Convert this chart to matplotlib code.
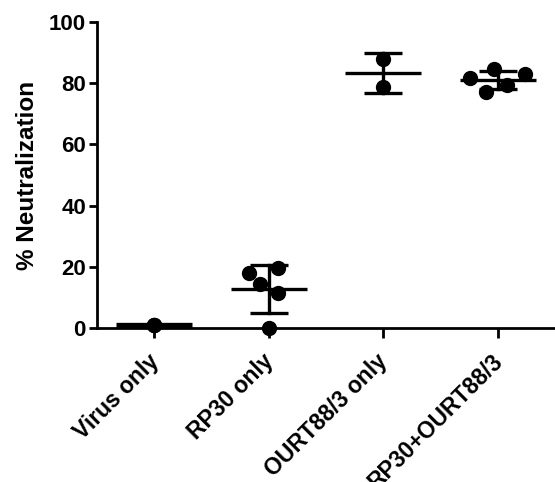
import numpy as np
import matplotlib
matplotlib.use("Agg")
import matplotlib.pyplot as plt
from matplotlib.transforms import ScaledTranslation

plt.rcParams['font.family'] = ['Liberation Sans', 'DejaVu Sans']
plt.rcParams['font.weight'] = 'bold'

# data
groups = ["Virus only", "RP30 only", "OURT88/3 only", "RP30+OURT88/3"]
virus_only = [1.0, 1.0, 1.0]
rp30_only = [18.0, 19.6, 14.4, 11.4, 0.0]
ourt_only = [87.9, 78.8]
combo = [81.7, 84.6, 83.0, 77.1, 79.4]
values = [virus_only, rp30_only, ourt_only, combo]

# horizontal scatter of the dots (layout only)
offsets = [[0.0, 0.0, 0.0],
           [-0.17, 0.08, -0.08, 0.08, 0.0],
           [0.0, 0.0],
           [-0.245, -0.03, 0.24, -0.1, 0.08]]

fig = plt.figure(figsize=(5.55, 4.82), dpi=100)
ax = fig.add_axes([0.1748, 0.3195, 0.8252, 0.635])

lw = 2.4
for i, (vals, offs) in enumerate(zip(values, offsets)):
    vals = np.array(vals)
    ax.plot(i + np.array(offs), vals, 'o', color='black', markersize=10, zorder=3, clip_on=False)
    m = vals.mean()
    sd = vals.std(ddof=1)
    # mean line, thicker where the group has no spread
    mlw = lw * 1.6 if sd == 0 else lw
    ax.plot([i - 0.33, i + 0.33], [m, m], color='black', lw=mlw, zorder=4, solid_capstyle='butt')
    ax.plot([i, i], [m - sd, m + sd], color='black', lw=lw, zorder=4)
    for y in (m - sd, m + sd):
        ax.plot([i - 0.167, i + 0.167], [y, y], color='black', lw=lw, zorder=4, solid_capstyle='butt')

ax.set_xlim(-0.5, 3.5)
ax.set_ylim(0, 100)
ax.set_yticks([0, 20, 40, 60, 80, 100])
ax.set_xticks(range(len(groups)))
ax.set_xticklabels(groups, rotation=45, ha='right', rotation_mode='anchor', fontsize=16.5, fontweight='bold')
ax.tick_params(axis='y', labelsize=16, width=2, length=6, pad=2)
ax.tick_params(axis='x', width=2, length=7, pad=7)
# nudge rotated labels left like the reference
shift = ScaledTranslation(-7 / 100, -2 / 100, fig.dpi_scale_trans)
for lab in ax.get_xticklabels():
    lab.set_transform(lab.get_transform() + shift)
for lab in ax.get_yticklabels():
    lab.set_fontweight('bold')
ax.set_ylabel("% Neutralization", fontsize=17.5, fontweight='bold', labelpad=7)

for s in ['top', 'right']:
    ax.spines[s].set_visible(False)
for s in ['left', 'bottom']:
    ax.spines[s].set_linewidth(2)

fig.savefig("out.png", dpi=100)
